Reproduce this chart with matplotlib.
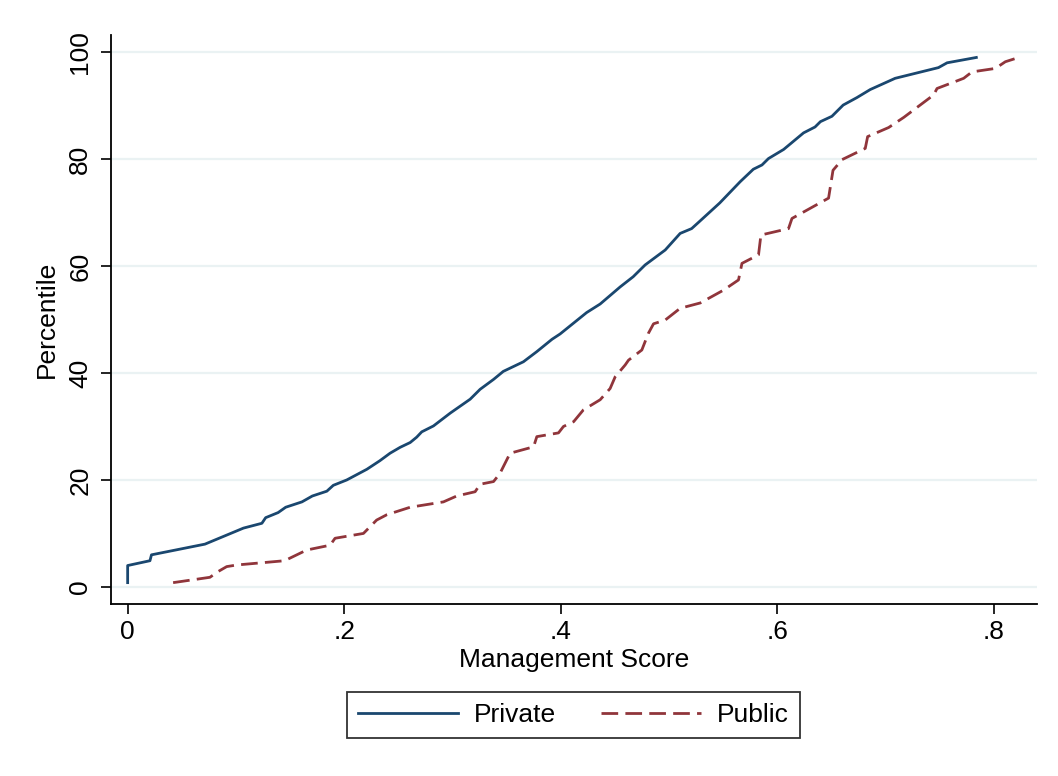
import matplotlib
matplotlib.use("Agg")
import matplotlib.pyplot as plt

plt.rcParams["font.family"] = ["Liberation Sans", "DejaVu Sans"]

# Cumulative distribution of management scores by ownership type
private_score = [0.000, 0.000, 0.0206, 0.022, 0.0714, 0.107, 0.124, 0.1275, 0.139, 0.146,
                 0.161, 0.1706, 0.184, 0.190, 0.2024, 0.221, 0.233, 0.2424, 0.2517, 0.261,
                 0.267, 0.2717, 0.2825, 0.298, 0.3164, 0.3256, 0.338, 0.347, 0.3656, 0.378,
                 0.392, 0.3995, 0.424, 0.4365, 0.455, 0.467, 0.478, 0.4966, 0.5104, 0.521,
                 0.527, 0.547, 0.566, 0.578, 0.586, 0.592, 0.606, 0.6244, 0.635, 0.640,
                 0.6506, 0.661, 0.6737, 0.686, 0.709, 0.729, 0.749, 0.757, 0.784]
private_pct = [0.8, 4.0, 4.9, 6.0, 8.0, 11.0, 11.9, 12.95, 13.9, 14.9,
               15.9, 17.0, 17.9, 19.0, 20.0, 22.0, 23.6, 25.0, 26.1, 27.0,
               28.0, 29.0, 30.1, 32.5, 35.1, 36.95, 38.8, 40.3, 42.1, 44.0,
               46.3, 47.3, 51.3, 52.9, 56.1, 58.0, 60.2, 63.0, 66.1, 67.0,
               68.1, 71.8, 75.8, 78.1, 78.9, 80.1, 81.8, 84.9, 86.0, 87.0,
               88.0, 90.1, 91.5, 93.0, 95.1, 96.1, 97.1, 98.0, 99.0]

public_score = [0.042, 0.076, 0.0838, 0.0915, 0.1007, 0.145, 0.1654, 0.187, 0.1916, 0.2178,
                0.230, 0.2394, 0.261, 0.2917, 0.304, 0.321, 0.3256, 0.338, 0.344, 0.3533,
                0.375, 0.378, 0.398, 0.4026, 0.412, 0.421, 0.4365, 0.4457, 0.4504, 0.4596,
                0.4627, 0.475, 0.481, 0.4858, 0.4966, 0.5104, 0.529, 0.5505, 0.5643, 0.5675,
                0.5828, 0.585, 0.6105, 0.6137, 0.6475, 0.6516, 0.660, 0.6814, 0.6836, 0.703,
                0.717, 0.7446, 0.7477, 0.7723, 0.780, 0.8016, 0.8108, 0.8247]
public_pct = [0.8, 1.8, 2.9, 3.8, 4.1, 4.9, 6.9, 7.8, 9.1, 10.0,
              12.5, 13.5, 14.9, 15.9, 17.0, 17.8, 19.2, 19.7, 21.25, 25.0,
              26.2, 28.1, 28.8, 30.0, 30.9, 33.1, 35.0, 37.1, 39.3, 41.5,
              42.4, 44.3, 47.4, 49.2, 49.9, 52.1, 53.1, 55.5, 57.4, 60.5,
              62.1, 65.8, 67.0, 68.9, 72.7, 77.9, 79.9, 82.0, 84.2, 85.9,
              87.8, 92.0, 93.2, 95.1, 96.3, 96.95, 98.2, 99.1]

x_ticks = [0, 0.2, 0.4, 0.6, 0.8]
x_ticklabels = ["0", ".2", ".4", ".6", ".8"]
y_ticks = [0, 20, 40, 60, 80, 100]

navy = "#1a476f"
maroon = "#90353b"
grid_color = "#eaf2f3"
fs = 19

fig = plt.figure(figsize=(10.58, 7.76), dpi=100)
ax = fig.add_axes([0.1049, 0.2216, 0.8752, 0.7333])

for y in y_ticks:
    ax.axhline(y, color=grid_color, lw=1.6, zorder=0)

ax.plot(private_score, private_pct, color=navy, lw=2.0, label="Private",
        solid_joinstyle="round")
ax.plot(public_score, public_pct, color=maroon, lw=2.0, label="Public",
        linestyle=(0, (6.0, 2.6)))

ax.set_xlim(-0.0154, 0.840)
ax.set_ylim(-3.2, 103.2)
ax.set_xticks(x_ticks)
ax.set_xticklabels(x_ticklabels)
ax.set_yticks(y_ticks)
ax.set_yticklabels([str(v) for v in y_ticks], rotation=90, va="center")

for side in ("top", "right"):
    ax.spines[side].set_visible(False)
for side in ("left", "bottom"):
    ax.spines[side].set_linewidth(1.3)
    ax.spines[side].set_color("black")

ax.tick_params(axis="both", direction="out", length=7.5, width=1.2,
               labelsize=fs, colors="black")
ax.tick_params(axis="x", pad=4)
ax.tick_params(axis="y", pad=6)

ax.set_xlabel("Management Score", fontsize=fs, labelpad=3)
ax.set_ylabel("Percentile", fontsize=fs, labelpad=7)

leg = fig.legend(loc="center", bbox_to_anchor=(573.5 / 1058, 1 - 715 / 776),
                 ncol=2, fontsize=fs, frameon=True, fancybox=False,
                 edgecolor="black", handlelength=3.8, handletextpad=0.6,
                 columnspacing=1.7, borderpad=0.42, borderaxespad=0)
leg.get_frame().set_linewidth(1.3)

fig.savefig("out.png", dpi=100, facecolor="white")
